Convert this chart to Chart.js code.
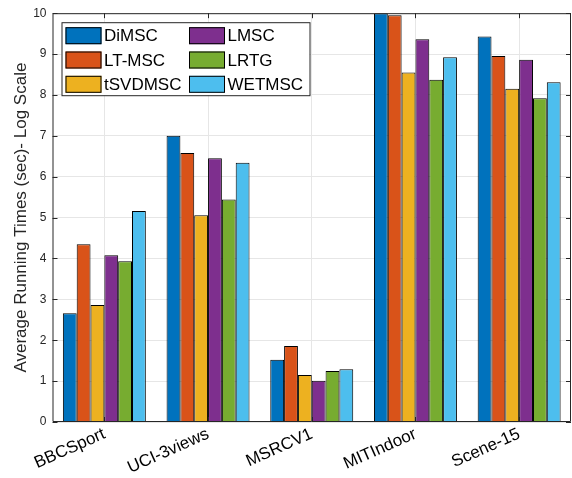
<!DOCTYPE html>
<html>
<head>
<meta charset="utf-8">
<script src="https://cdn.jsdelivr.net/npm/chart.js@4"></script>
<style>
  html, body { margin: 0; padding: 0; background: #fff; }
  #wrap { width: 572px; height: 478px; }
</style>
</head>
<body>
<div id="wrap"><canvas id="chart"></canvas></div>
<script>
const datasetsNames = ['BBCSport', 'UCI-3views', 'MSRCV1', 'MITIndoor', 'Scene-15'];
const methods = ['DiMSC', 'LT-MSC', 'tSVDMSC', 'LMSC', 'LRTG', 'WETMSC'];
const colors = ['#0072BD', '#D95319', '#EDB120', '#7E2F8E', '#77AC30', '#4DBEEE'];

// running times, log scale, one array per method
const diMSC   = [2.66, 7.00, 1.52, 10.0, 9.43];
const ltMSC   = [4.35, 6.58, 1.86, 9.95, 8.95];
const tSVDMSC = [2.86, 5.06, 1.15, 8.55, 8.15];
const lMSC    = [4.08, 6.45, 1.01, 9.36, 8.86];
const lRTG    = [3.93, 5.44, 1.25, 8.37, 7.92];
const wetMSC  = [5.16, 6.34, 1.29, 8.92, 8.31];
const series = [diMSC, ltMSC, tSVDMSC, lMSC, lRTG, wetMSC];

const yTicks = [0, 1, 2, 3, 4, 5, 6, 7, 8, 9, 10];

const axisColor = '#262626';
const fontFamily = '"Liberation Sans", Arial, Helvetica, sans-serif';

// box, inward ticks and legend drawn the MATLAB way
const matlabBox = {
    id: 'matlabBox',
    afterDraw(chart) {
        const ctx = chart.ctx;
        const a = chart.chartArea;
        const xs = chart.scales.x;
        const ys = chart.scales.y;
        ctx.save();
        ctx.strokeStyle = axisColor;
        ctx.lineWidth = 1;
        ctx.beginPath();
        ctx.rect(a.left + 0.5, a.top + 0.5, a.right - a.left - 1, a.bottom - a.top - 1);
        ctx.stroke();

        ctx.beginPath();
        yTicks.forEach(v => {
            const y = Math.round(ys.getPixelForValue(v)) + 0.5;
            ctx.moveTo(a.left, y); ctx.lineTo(a.left + 5, y);
            ctx.moveTo(a.right, y); ctx.lineTo(a.right - 5, y);
        });
        datasetsNames.forEach((_, i) => {
            const x = Math.round(xs.getPixelForValue(i)) + 0.5;
            ctx.moveTo(x, a.top); ctx.lineTo(x, a.top + 5);
            ctx.moveTo(x, a.bottom); ctx.lineTo(x, a.bottom - 5);
        });
        ctx.stroke();

        // legend, column-major, 2 columns x 3 rows
        const lx = a.left + 9, ly = a.top + 9;
        const lw = 248, lh = 73;
        ctx.fillStyle = '#fff';
        ctx.fillRect(lx, ly, lw, lh);
        ctx.strokeStyle = axisColor;
        ctx.strokeRect(lx + 0.5, ly + 0.5, lw, lh);
        ctx.font = '17px ' + fontFamily;
        ctx.textBaseline = 'middle';
        methods.forEach((m, i) => {
            const col = Math.floor(i / 3), row = i % 3;
            const sx = lx + 4 + col * 123.5;
            const sy = ly + 5 + row * 24.3;
            ctx.fillStyle = colors[i];
            ctx.fillRect(sx, sy, 36, 17);
            ctx.strokeStyle = '#000';
            ctx.strokeRect(sx + 0.5, sy + 0.5, 35, 16);
            ctx.fillStyle = '#000';
            ctx.fillText(m, sx + 38.5, sy + 9.5);
        });
        ctx.restore();
    }
};

new Chart(document.getElementById('chart'), {
    type: 'bar',
    data: {
        labels: datasetsNames,
        datasets: methods.map((m, i) => ({
            label: m,
            data: series[i],
            backgroundColor: colors[i],
            borderColor: '#000',
            borderWidth: 1,
            categoryPercentage: 0.8,
            barPercentage: 1.0
        }))
    },
    options: {
        responsive: true,
        maintainAspectRatio: false,
        animation: false,
        layout: { padding: { top: 7.5, right: 1, left: 0, bottom: 0 } },
        plugins: {
            legend: { display: false },
            tooltip: { enabled: false }
        },
        scales: {
            x: {
                offset: true,
                grid: { offset: false, color: '#e6e6e6', drawTicks: false },
                border: { display: false },
                afterFit: axis => { axis.height = 56; },
                ticks: {
                    color: '#000',
                    font: { family: fontFamily, size: 17 },
                    maxRotation: 24,
                    minRotation: 24,
                    padding: 2
                }
            },
            y: {
                min: 0,
                max: 10,
                afterBuildTicks: axis => { axis.ticks = yTicks.map(v => ({ value: v })); },
                afterFit: axis => { axis.width = 52.5; },
                grid: { color: '#e6e6e6', drawTicks: false },
                border: { display: false },
                ticks: {
                    color: axisColor,
                    font: { family: fontFamily, size: 12 },
                    padding: 6
                },
                title: {
                    display: true,
                    text: 'Average Running Times (sec)- Log Scale',
                    color: axisColor,
                    font: { family: fontFamily, size: 17 },
                    padding: { top: 11, bottom: 1 }
                }
            }
        }
    },
    plugins: [matlabBox]
});
</script>
</body>
</html>
